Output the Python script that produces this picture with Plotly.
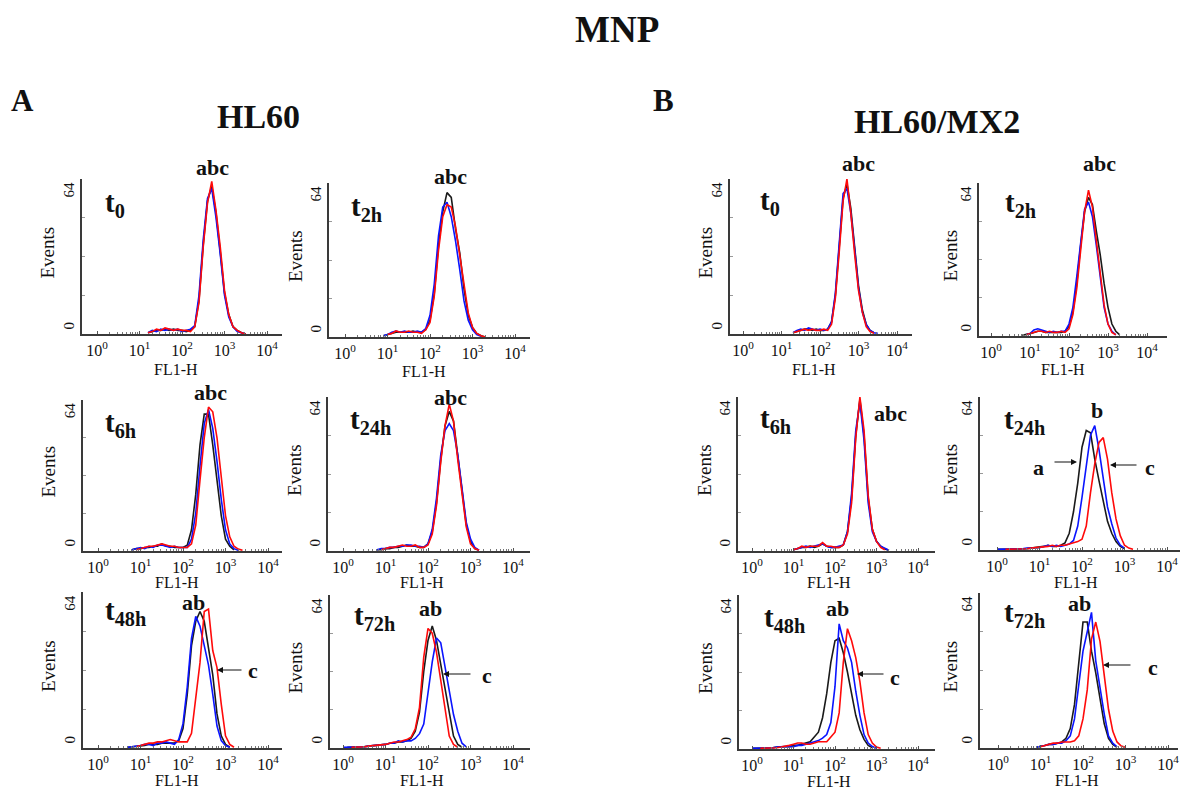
import plotly.graph_objects as go

N = None
W, H = 1181, 789

# log10 FL1-H channel grid (decades), shared by all histograms
LOG_FL1 = [0.0, 0.1, 0.2, 0.3, 0.4, 0.5, 0.6, 0.7, 0.8, 0.9,
           1.0, 1.1, 1.2, 1.3, 1.4, 1.5, 1.6, 1.7, 1.8, 1.9,
           2.0, 2.1, 2.2, 2.3, 2.4, 2.5, 2.6, 2.7, 2.8, 2.9,
           3.0, 3.1, 3.2, 3.3, 3.4, 3.5, 3.6]

# ---------------- HL60 ----------------
hl60_t0_a = [N, N, N, N, N, N, N, N, N, N,
             N, N, 0.5, 1, 1.5, 1.5, 2, 1.5, 2, 1.5,
             1.5, 1, 1.5, 3, 14, 37, 55, 61, 50, 34,
             17, 8, 3, 1.5, 0.5, 0, N]
hl60_t0_b = [N, N, N, N, N, N, N, N, N, N,
             N, N, 0.5, 1.5, 1, 2, 1.5, 2, 1.5, 2,
             1, 1.5, 2, 3.5, 16, 39, 56, 60, 48, 33,
             16, 7, 3, 1, 0.5, 0, N]
hl60_t0_c = [N, N, N, N, N, N, N, N, N, N,
             N, N, 0.5, 1, 2, 1.5, 2.5, 2, 1.5, 2,
             1.5, 1.5, 1, 3, 13, 36, 54, 63, 51, 36,
             18, 8, 3, 1.5, 0.5, 0, N]

hl60_t2_a = [N, N, N, N, N, N, N, N, N, 0.5,
             1, 1.5, 2, 2, 2, 2, 2.5, 2, 2, 3,
             7, 18, 38, 52, 60, 58, 45, 35, 20, 9,
             4, 1.5, 0.5, 0, N, N, N]
hl60_t2_b = [N, N, N, N, N, N, N, N, N, 0.5,
             1, 2, 2.5, 2, 2.5, 2, 2, 2.5, 2, 3.5,
             9, 22, 42, 54, 56, 50, 40, 28, 15, 7,
             3, 1, 0.3, N, N, N, N]
hl60_t2_c = [N, N, N, N, N, N, N, N, N, N,
             1, 1.5, 2.5, 2, 2, 2.5, 2, 2, 1.5, 3,
             6, 17, 36, 50, 55, 54, 46, 34, 20, 10,
             4, 1.5, 0.5, 0, N, N, N]

hl60_t6_a = [N, N, N, N, N, N, N, N, 0.5, 1,
             1, 1.5, 1.5, 2, 2, 3, 2, 2, 1.5, 1.5,
             1.5, 2.5, 9, 24, 45, 58, 58, 45, 30, 15,
             5, 2, 0.5, N, N, N, N]
hl60_t6_b = [N, N, N, N, N, N, N, N, 0.5, 1,
             1.5, 1, 2, 1.5, 2.5, 2.5, 2, 1.5, 2, 1.5,
             1.5, 1.5, 5, 16, 36, 54, 60, 52, 38, 22,
             9, 3, 1, 0.3, N, N, N]
hl60_t6_c = [N, N, N, N, N, N, N, N, N, 0.5,
             1, 1.5, 2, 2, 2.5, 3, 2.5, 2, 2, 1.5,
             1.5, 1.5, 3, 11, 30, 48, 61, 59, 48, 32,
             15, 6, 2, 0.8, 0.3, N, N]

hl60_t24_a = [N, N, N, N, N, N, N, N, 0.5, 0.5,
              1, 1, 1.5, 1.5, 2, 2.5, 2, 2, 1.5, 1.5,
              3, 8, 20, 38, 52, 58, 54, 40, 25, 11,
              4, 1, 0.3, N, N, N, N]
hl60_t24_b = [N, N, N, N, N, N, N, N, 0.5, 1,
              1, 1.5, 1.5, 2, 2, 2.5, 2.5, 2, 2, 1.5,
              3, 9, 22, 40, 50, 53, 50, 40, 26, 12,
              5, 1.5, 0.3, N, N, N, N]
hl60_t24_c = [N, N, N, N, N, N, N, N, N, 0.5,
              1, 1.5, 1.5, 2, 2.5, 2, 2, 2.5, 1.5, 1.5,
              2.5, 7, 19, 37, 52, 61, 54, 38, 23, 10,
              3, 1, 0.3, N, N, N, N]

hl60_t48_a = [N, N, N, N, N, N, N, 0.3, 0.5, 0.5,
              1, 1, 1.5, 1.5, 1.5, 2, 2, 2, 2, 3,
              8, 22, 42, 52, 56, 52, 40, 30, 14, 5,
              1.5, 0.3, N, N, N, N, N]
hl60_t48_b = [N, N, N, N, N, N, N, 0.3, 0.5, 0.5,
              1, 1.5, 1.5, 1, 2, 2, 2.5, 2, 1.5, 3.5,
              10, 25, 45, 54, 50, 42, 34, 22, 9, 3,
              1, 0.3, N, N, N, N, N]
hl60_t48_c = [N, N, N, N, N, N, N, N, N, 0.5,
              1, 1.5, 2, 2, 2.5, 2.5, 3, 3.5, 3, 2.5,
              2.5, 2.5, 6, 20, 35, 56, 57, 40, 33, 18,
              5, 1.5, 0.3, N, N, N, N]

hl60_t72_a = [N, 0.3, 0.3, 0.3, 0.5, 0.5, 0.8, 1, 1, 1.5,
              1.5, 2, 2, 2.5, 2.5, 3, 4, 7, 15, 32,
              45, 51, 45, 35, 25, 14, 5, 1.5, 0.3, N,
              N, N, N, N, N, N, N]
hl60_t72_b = [0.3, 0.3, 0.3, 0.5, 0.3, 0.5, 0.8, 1, 1, 1.5,
              1.5, 2, 2, 3, 2.5, 3, 3, 4, 6, 10,
              24, 36, 46, 44, 34, 24, 14, 7, 2, 0.5,
              N, N, N, N, N, N, N]
hl60_t72_c = [N, N, 0.3, 0.3, 0.5, 0.5, 0.8, 1, 1, 1.5,
              1.5, 2, 2.5, 2.5, 3, 3.5, 4.5, 8, 17, 38,
              50, 48, 40, 28, 15, 5, 1.5, 0.3, N, N,
              N, N, N, N, N, N, N]

# ---------------- HL60/MX2 ----------------
mx2_t0_a = [N, N, N, N, N, N, N, N, N, N,
            N, N, N, 0.5, 1, 1.5, 2, 2, 1.5, 2,
            1.5, 1.5, 2, 5, 16, 36, 56, 62, 52, 36,
            20, 10, 4, 1.5, 0.5, N, N]
mx2_t0_b = [N, N, N, N, N, N, N, N, N, N,
            N, N, N, 0.5, 1.5, 2, 1.5, 2.5, 2, 1.5,
            2, 1.5, 2, 5, 17, 38, 58, 60, 50, 35,
            19, 9, 4, 1.5, 0.5, 0.3, N]
mx2_t0_c = [N, N, N, N, N, N, N, N, N, N,
            N, N, N, 0.5, 1, 1.5, 2, 1.5, 2, 1.5,
            1.5, 2, 1.5, 4, 15, 34, 55, 64, 50, 33,
            18, 9, 3, 1, 0.3, N, N]

mx2_t2_a = [N, N, N, N, N, N, N, N, 0.3, 0.5,
            1, 1.5, 2, 2, 1.5, 1.5, 1.5, 1.5, 1.5, 2,
            4, 10, 22, 38, 52, 58, 55, 44, 34, 22,
            12, 5, 2, 0.5, N, N, N]
mx2_t2_b = [N, N, N, N, N, N, N, N, N, 0.5,
            1, 2.5, 3, 2.5, 2, 1.5, 2, 1.5, 2, 2,
            5, 12, 25, 40, 53, 56, 50, 38, 24, 12,
            5, 2, 0.5, N, N, N, N]
mx2_t2_c = [N, N, N, N, N, N, N, N, N, 0.5,
            1, 1.5, 2, 2, 1.5, 2, 1.5, 1.5, 2, 1.5,
            3, 9, 20, 36, 52, 61, 54, 40, 26, 13,
            5, 1.5, 0.5, N, N, N, N]

mx2_t6_a = [N, N, N, N, N, N, N, N, N, N,
            0.5, 1, 1.5, 1.5, 2, 1.5, 2, 3, 2, 1.5,
            1.5, 1.5, 2.5, 8, 22, 48, 63, 48, 22, 9,
            4, 2, 0.8, 0.3, N, N, N]
mx2_t6_b = [N, N, N, N, N, N, N, N, N, N,
            0.5, 1, 1.5, 2, 1.5, 2, 2.5, 3, 2, 1.5,
            1.5, 2, 2.5, 8, 24, 50, 62, 46, 20, 8,
            4, 2, 1, 0.3, N, N, N]
mx2_t6_c = [N, N, N, N, N, N, N, N, N, N,
            0.5, 1, 2, 1.5, 2, 2, 2, 3.5, 2, 2,
            1.5, 1.5, 2.5, 7, 20, 47, 64, 50, 23, 9,
            4, 1.5, 0.5, N, N, N, N]

mx2_t24_a = [0.3, 0.3, 0.3, 0.3, 0.5, 0.5, 0.5, 0.5, 0.8, 1,
             1, 1.5, 2, 1.5, 1.5, 2, 3, 7, 16, 28,
             43, 50, 49, 38, 29, 21, 12, 7, 3.5, 1.5,
             0.5, N, N, N, N, N, N]
mx2_t24_b = [0.3, 0.3, 0.3, 0.5, 0.3, 0.5, 0.5, 0.8, 0.8, 1,
             1, 1.5, 2, 1.5, 2, 1.5, 2, 2.5, 4, 10,
             22, 36, 48, 52, 42, 30, 18, 11, 5, 2,
             0.8, N, N, N, N, N, N]
mx2_t24_c = [N, N, 0.3, 0.3, 0.3, 0.5, 0.5, 0.5, 0.8, 1,
             1, 1.5, 1.5, 2, 1.5, 2, 2, 2.5, 3, 3.5,
             4.5, 10, 24, 36, 45, 47, 38, 24, 13, 6,
             2, 0.8, 0.3, N, N, N, N]

mx2_t48_a = [0.3, 0.3, 0.3, 0.5, 0.5, 0.5, 0.8, 1, 1, 1,
             1.5, 1.5, 2, 2.5, 3, 5, 7, 13, 23, 36,
             45, 46, 40, 32, 23, 14, 8, 4, 1.5, 0.5,
             N, N, N, N, N, N, N]
mx2_t48_b = [0.3, 0.3, 0.3, 0.5, 0.5, 0.5, 0.8, 1, 1, 1,
             1, 1.5, 1.5, 2, 2.5, 3, 3.5, 4.5, 6, 11,
             26, 52, 45, 42, 36, 24, 14, 6, 2.5, 1,
             0.3, N, N, N, N, N, N]
mx2_t48_c = [N, N, 0.3, 0.3, 0.5, 0.5, 0.5, 0.8, 1, 1.5,
             2, 2.5, 2.5, 2, 2, 2.5, 3, 3, 3, 5,
             7, 15, 36, 50, 45, 38, 28, 15, 6, 2.5,
             0.8, 0.3, N, N, N, N, N]

mx2_t72_a = [N, N, N, N, N, N, N, N, N, 0.3,
             0.5, 1, 1.5, 1.5, 2, 2.5, 4, 8, 18, 35,
             52, 52, 40, 31, 20, 10, 4, 1.5, 0.3, N,
             N, N, N, N, N, N, N]
mx2_t72_b = [N, N, N, N, N, N, N, N, N, 0.3,
             0.5, 1, 1.5, 1.5, 2, 2, 3, 5, 12, 26,
             40, 48, 56, 36, 24, 14, 5, 2, 0.5, N,
             N, N, N, N, N, N, N]
mx2_t72_c = [N, N, N, N, N, N, N, N, N, N,
             0.5, 1, 1.5, 2, 2, 2.5, 2.5, 2.5, 3, 5,
             12, 24, 45, 52, 44, 30, 16, 7, 2.5, 0.8,
             0.3, N, N, N, N, N, N]

SERIES_COLORS = ["#1a1a1a", "#0a14ff", "#ff0a0a"]
X_TICKS = [1, 10, 100, 1000, 10000]
X_TICKTEXT = ["10<sup>0</sup>", "10<sup>1</sup>", "10<sup>2</sup>",
              "10<sup>3</sup>", "10<sup>4</sup>"]

FONT = "Liberation Serif, Times New Roman, serif"

# panel geometry in pixels: y-axis x, x-pos of 10^0, px per decade, right end, top, bottom
panels = [
    dict(t="0", curves=(hl60_t0_a, hl60_t0_b, hl60_t0_c), g=(82, 97, 42.5, 282, 179, 334),
         t_xy=(103, 204), ev=47, tag="abc", tag_xy=(212, 167), fl=369),
    dict(t="2h", curves=(hl60_t2_a, hl60_t2_b, hl60_t2_c), g=(329, 345, 42.5, 530, 183, 337),
         t_xy=(349, 208), ev=295, tag="abc", tag_xy=(450, 176), fl=371),
    dict(t="6h", curves=(hl60_t6_a, hl60_t6_b, hl60_t6_c), g=(83, 98, 42.5, 282, 400, 551),
         t_xy=(103, 424), ev=48, tag="abc", tag_xy=(210, 393), fl=582),
    dict(t="24h", curves=(hl60_t24_a, hl60_t24_b, hl60_t24_c), g=(328, 343, 42.5, 530, 397, 551),
         t_xy=(348, 421), ev=295, tag="abc", tag_xy=(450, 397), fl=582),
    dict(t="48h", curves=(hl60_t48_a, hl60_t48_b, hl60_t48_c), g=(83, 98, 42.5, 282, 592, 748),
         t_xy=(103, 612), ev=48, tag="ab", tag_xy=(193, 602), fl=780),
    dict(t="72h", curves=(hl60_t72_a, hl60_t72_b, hl60_t72_c), g=(330, 343, 42.5, 530, 595, 748),
         t_xy=(352, 617), ev=295, tag="ab", tag_xy=(430, 608), fl=780),
    dict(t="0", curves=(mx2_t0_a, mx2_t0_b, mx2_t0_c), g=(730, 743, 38.5, 912, 179, 334),
         t_xy=(758, 202), ev=705, tag="abc", tag_xy=(858, 163), fl=369),
    dict(t="2h", curves=(mx2_t2_a, mx2_t2_b, mx2_t2_c), g=(979, 991, 39.0, 1167, 183, 336),
         t_xy=(1003, 204), ev=950, tag="abc", tag_xy=(1099, 163), fl=369),
    dict(t="6h", curves=(mx2_t6_a, mx2_t6_b, mx2_t6_c), g=(738, 752, 41.5, 935, 397, 551),
         t_xy=(758, 420), ev=705, tag="abc", tag_xy=(890, 413), fl=582),
    dict(t="24h", curves=(mx2_t24_a, mx2_t24_b, mx2_t24_c), g=(980, 997, 42.5, 1180, 397, 550),
         t_xy=(1002, 421), ev=950, tag="b", tag_xy=(1097, 410), fl=582),
    dict(t="48h", curves=(mx2_t48_a, mx2_t48_b, mx2_t48_c), g=(739, 752, 41.5, 935, 595, 749),
         t_xy=(762, 619), ev=705, tag="ab", tag_xy=(837, 608), fl=781),
    dict(t="72h", curves=(mx2_t72_a, mx2_t72_b, mx2_t72_c), g=(980, 998, 42.5, 1178, 593, 748),
         t_xy=(1002, 614), ev=950, tag="ab", tag_xy=(1079, 603), fl=780),
]


def px(x):
    return x / W


def py(y):
    return 1 - y / H


def label(x, y, text, size, angle=0, anchor="center"):
    return dict(x=px(x), y=py(y), xref="paper", yref="paper",
                xanchor=anchor, yanchor="middle", showarrow=False,
                text=text, textangle=angle,
                font=dict(family=FONT, size=size, color="#111"))


fig = go.Figure()
layout_axes = {}
annotations = []

fl1 = [10 ** v for v in LOG_FL1]
minor_x = [m * 10 ** d for d in range(0, 4) for m in range(2, 10)]

for k, p in enumerate(panels, start=1):
    left, x0, dec, right, top, bottom = p["g"]
    for curve, color in zip(p["curves"], SERIES_COLORS):
        assert len(curve) == len(LOG_FL1)
        fig.add_trace(go.Scatter(
            x=fl1, y=curve, mode="lines",
            line=dict(color=color, width=1.6),
            xaxis=f"x{k}", yaxis=f"y{k}", showlegend=False,
            connectgaps=False, hoverinfo="skip"))
    xr = [(left - x0) / dec, (right - x0) / dec]
    suffix = "" if k == 1 else str(k)
    layout_axes[f"xaxis{suffix}"] = dict(
        domain=[px(left), px(right)], anchor=f"y{k}", type="log", range=xr,
        showline=True, linecolor="#3a3a3a", linewidth=1.6, mirror=False,
        showgrid=False, zeroline=False,
        tickvals=X_TICKS, ticktext=X_TICKTEXT, ticks="inside", ticklen=3,
        tickcolor="#555", tickfont=dict(family=FONT, size=16, color="#111"),
        ticklabelstandoff=1,
        minor=dict(tickvals=minor_x, ticks="inside", ticklen=2, tickcolor="#777"),
        fixedrange=True)
    layout_axes[f"yaxis{suffix}"] = dict(
        domain=[py(bottom), py(top)], anchor=f"x{k}", range=[0, 64],
        showline=True, linecolor="#3a3a3a", linewidth=1.6,
        showgrid=False, zeroline=False,
        tickvals=[2.5, 58.5], ticktext=["0", "64"], tickangle=-90, ticks="",
        tickfont=dict(family=FONT, size=15, color="#111"),
        minor=dict(tickvals=[16, 32, 48], ticks="inside", ticklen=3, tickcolor="#999"),
        fixedrange=True)

    # time point label
    tx, ty = p["t_xy"]
    annotations.append(label(tx, ty, f"<b>t<sub>{p['t']}</sub></b>", 29, anchor="left"))
    # group label above the peak
    gx, gy = p["tag_xy"]
    annotations.append(label(gx, gy, f"<b>{p['tag']}</b>", 22))
    # axis titles
    annotations.append(label(p["ev"], (top + bottom) / 2 - 4, "Events", 19, angle=-90))
    annotations.append(label(x0 + 1.85 * dec, p["fl"], "FL1-H", 16))

# extra letters and arrows pointing at individual histograms
letters = [("c", 253, 670), ("c", 487, 675), ("a", 1038, 468), ("c", 1150, 468),
           ("c", 895, 677), ("c", 1153, 667)]
for txt, lx_, ly_ in letters:
    annotations.append(label(lx_, ly_, f"<b>{txt}</b>", 22))

arrows = [((243, 670), (217, 670)), ((472, 674), (443, 674)),
          ((1053, 462), (1077, 462)), ((1138, 465), (1110, 465)),
          ((885, 674), (857, 674)), ((1132, 665), (1103, 665))]
for (tail, tip) in arrows:
    annotations.append(dict(
        x=px(tip[0]), y=py(tip[1]), xref="paper", yref="paper",
        ax=tail[0] - tip[0], ay=tail[1] - tip[1], axref="pixel", ayref="pixel",
        text="", showarrow=True, arrowhead=2, arrowsize=1, arrowwidth=1.2,
        arrowcolor="#111"))

# titles
annotations += [
    label(617, 30, "<b>MNP</b>", 37),
    label(22, 100, "<b>A</b>", 31),
    label(663, 100, "<b>B</b>", 31),
    label(258, 116, "<b>HL60</b>", 34),
    label(937, 121, "<b>HL60/MX2</b>", 34),
]

fig.update_layout(
    width=W, height=H, margin=dict(l=0, r=0, t=0, b=0),
    paper_bgcolor="white", plot_bgcolor="white",
    annotations=annotations, **layout_axes)

fig.write_html("out.html")
